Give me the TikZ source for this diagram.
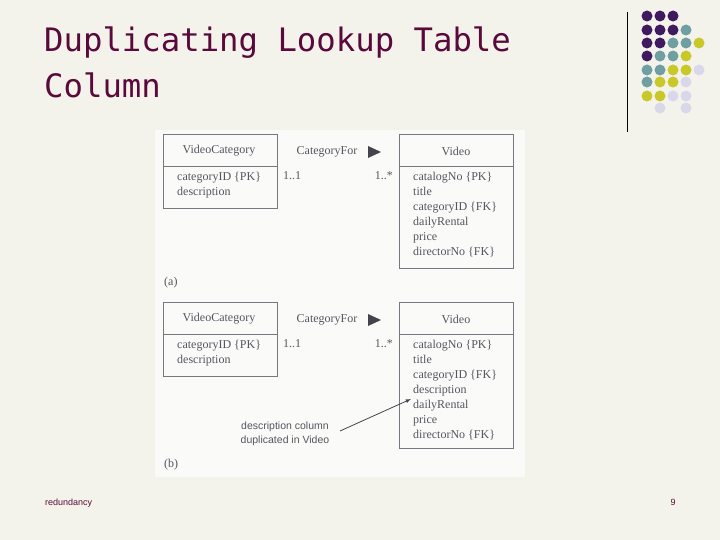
\documentclass[tikz,border=0pt]{standalone}
\usepackage{fontspec}
\setmainfont{Liberation Serif}
\newfontfamily\titlefont{DejaVu Sans Mono}
\newfontfamily\footfont{Liberation Sans}
\definecolor{bg}{HTML}{F3F3EC}
\definecolor{panel}{HTML}{FAFAF8}
\definecolor{titlec}{HTML}{5A0A3A}
\definecolor{dP}{HTML}{3F1A5E}
\definecolor{dT}{HTML}{6F9FA0}
\definecolor{dY}{HTML}{C8C828}
\definecolor{dL}{HTML}{D8D8EA}
\definecolor{ink}{HTML}{555560}
\begin{document}
\begin{tikzpicture}[x=1pt,y=-1pt,
  box/.style={draw=ink!80,line width=0.6pt},
  txt/.style={font=\fontsize{12}{15}\selectfont,text=ink,inner sep=0pt},
  ttl/.style={anchor=base west,inner sep=0pt,text=titlec,font=\titlefont\fontsize{32.3}{46}\selectfont},
  dot/.style={circle,inner sep=0pt,minimum size=11pt}]
\fill[bg] (0,0) rectangle (720,540);
\useasboundingbox (0,0) rectangle (720,540);
\node[ttl] (title1) at (44,52) {Duplicating Lookup Table};
\node[ttl] (title2) at (44,98) {Column};
\draw[line width=0.8pt] (627,12) -- (627,132);
% dots
\foreach \row/\y in {{P,P,P}/16,{P,P,P,T}/30,{P,P,T,T,Y}/43,{P,T,T,Y}/56,{T,T,Y,Y,L}/70,{T,Y,Y,L}/82,{Y,Y,L,L}/96}{
  \foreach \c [count=\i from 0] in \row { \node[dot,fill=d\c] at (647+13*\i,\y) {}; } }
\node[dot,fill=dL] at (660,108) {};
\node[dot,fill=dL] at (686,108) {};
% panel
\fill[panel] (155,130) rectangle (525,477);
\foreach \o/\h/\lab/\ly in {0/268/a/283, 168/448/b/297}{
  \begin{scope}[yshift=-\o]
  \draw[box] (163,134) rectangle (277,208);
  \draw[box] (163,166) -- (277,166);
  \draw[box] (399,134) rectangle (513,\h-\o);
  \draw[box] (399,166) -- (513,166);
  \node[txt] at (219,151) {VideoCategory};
  \node[txt] at (456,151) {Video};
  \node[txt] at (327,152) {CategoryFor};
  \fill[ink!80!black] (368,146) -- (381,152) -- (368,158) -- cycle;
  \node[txt,anchor=north west,align=left] at (177,172) {categoryID \{PK\}\\description};
  \node[txt,anchor=north west] at (283,171) {1..1};
  \node[txt,anchor=north east] at (393,171) {1..*};
  \node[txt,anchor=west] at (164,\ly) {(\lab)};
  \end{scope}
}
\node[txt,anchor=north west,align=left] (va) at (413,172) {catalogNo \{PK\}\\title\\categoryID \{FK\}\\dailyRental\\price\\directorNo \{FK\}};
\node[txt,anchor=north west,align=left] (vb) at (413,340) {catalogNo \{PK\}\\title\\categoryID \{FK\}\\description\\dailyRental\\price\\directorNo \{FK\}};
\node[txt,align=center,font=\footfont\fontsize{10.5}{14}\selectfont] (note) at (285,434) {description column\\duplicated in Video};
\coordinate (tip) at (411,399);
\draw[-latex,ink!80!black,line width=0.8pt] (340,431) -- (tip);
\node[anchor=base west,inner sep=0pt,font=\footfont\fontsize{9}{10}\selectfont,text=titlec] (foot) at (45,505) {redundancy};
\node[anchor=base,inner sep=0pt,font=\footfont\fontsize{9}{10}\selectfont,text=titlec] (pg) at (673,505) {9};
\end{tikzpicture}
\end{document}
